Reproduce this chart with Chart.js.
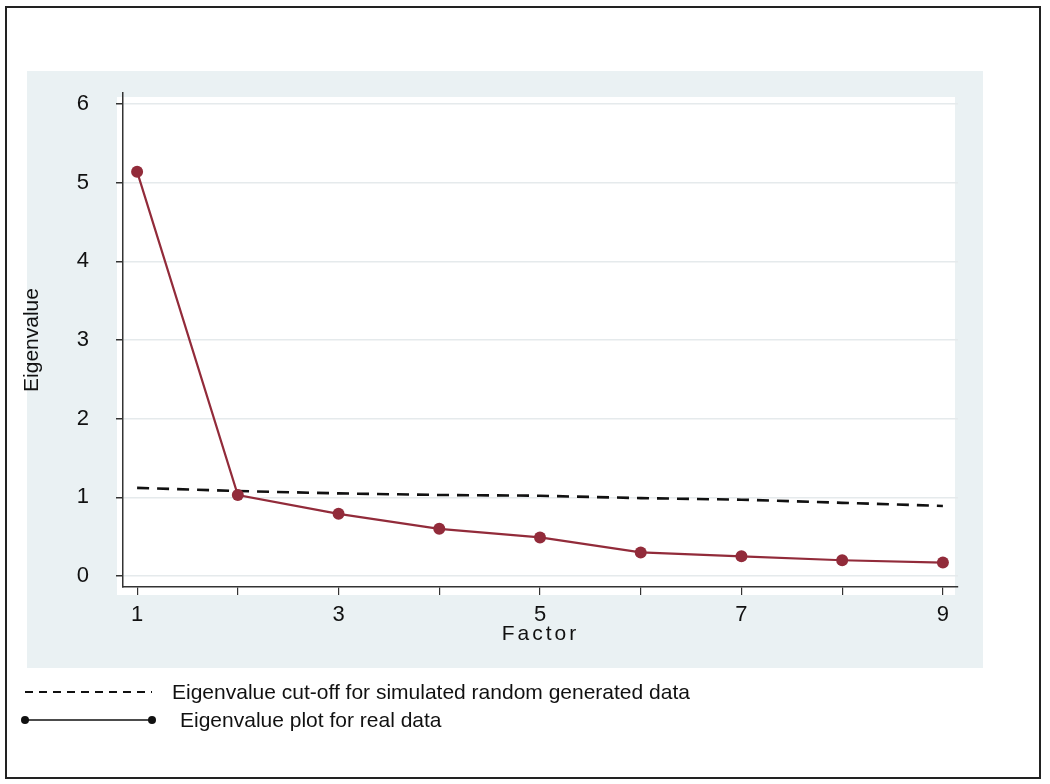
<!DOCTYPE html>
<html>
<head>
<meta charset="utf-8">
<script src="https://cdn.jsdelivr.net/npm/chart.js@4.4.1/dist/chart.umd.min.js"></script>
<style>
  body { margin: 0; background: #fff; }
  #wrap { width: 1050px; height: 784px; }
</style>
</head>
<body>
<div id="wrap"><canvas id="screeChart" width="1050" height="784"></canvas></div>
<script>
// data
const factors = [1, 2, 3, 4, 5, 6, 7, 8, 9];
const realEigen = [5.14, 1.03, 0.79, 0.60, 0.49, 0.30, 0.25, 0.20, 0.17];
const randomCutoff = [1.12, 1.08, 1.05, 1.03, 1.02, 0.99, 0.97, 0.93, 0.89];
const xTicks = [1, 2, 3, 4, 5, 6, 7, 8, 9];
const xLabeled = [1, 3, 5, 7, 9];
const yTicks = [0, 1, 2, 3, 4, 5, 6];
const legendLabels = ['Eigenvalue cut-off for simulated random generated data', 'Eigenvalue plot for real data'];

const FONT = '"Liberation Sans", Arial, sans-serif';
const maroon = '#922b3a';

const frame = {
    id: 'frame',
    beforeDraw(chart) {
        const ctx = chart.ctx;
        const a = chart.chartArea;
        ctx.save();
        ctx.fillStyle = '#fff';
        ctx.fillRect(0, 0, chart.width, chart.height);
        ctx.fillStyle = '#eaf1f3';
        ctx.fillRect(27, 71, 956, 597);
        ctx.fillStyle = '#fff';
        ctx.fillRect(a.left - 6, a.top + 4, a.right - a.left + 3, a.bottom - a.top + 4);
        ctx.strokeStyle = '#222';
        ctx.lineWidth = 2;
        ctx.strokeRect(6, 7, 1034, 771);
        ctx.restore();
    },
    afterDraw(chart) {
        const ctx = chart.ctx;
        const a = chart.chartArea;
        ctx.save();
        // x axis title, letter spaced
        ctx.fillStyle = '#111';
        ctx.font = '21px ' + FONT;
        ctx.letterSpacing = '3px';
        ctx.textAlign = 'center';
        ctx.textBaseline = 'middle';
        ctx.fillText('Factor', (a.left + a.right) / 2, 634);
        ctx.letterSpacing = '0px';

        // legend
        ctx.strokeStyle = '#111';
        ctx.lineWidth = 2;
        ctx.setLineDash([8, 6]);
        ctx.beginPath();
        ctx.moveTo(25, 692);
        ctx.lineTo(152, 692);
        ctx.stroke();
        ctx.setLineDash([]);
        ctx.lineWidth = 1.5;
        ctx.beginPath();
        ctx.moveTo(25, 720);
        ctx.lineTo(152, 720);
        ctx.stroke();
        ctx.fillStyle = '#111';
        [25, 152].forEach(x => {
            ctx.beginPath();
            ctx.arc(x, 720, 4, 0, Math.PI * 2);
            ctx.fill();
        });
        ctx.font = '21px ' + FONT;
        ctx.textAlign = 'left';
        ctx.fillText(legendLabels[0], 172, 693);
        ctx.fillText(legendLabels[1], 180, 721);
        ctx.restore();
    }
};

const ctx = document.getElementById('screeChart').getContext('2d');
const screeChart = new Chart(ctx, {
    type: 'line',
    data: {
        datasets: [{
            label: legendLabels[1],
            data: factors.map((f, i) => ({ x: f, y: realEigen[i] })),
            borderColor: maroon,
            backgroundColor: maroon,
            borderWidth: 2.2,
            pointRadius: 6,
            pointBorderWidth: 0,
            tension: 0
        }, {
            label: legendLabels[0],
            data: factors.map((f, i) => ({ x: f, y: randomCutoff[i] })),
            borderColor: '#111',
            borderWidth: 2.6,
            borderDash: [12, 8],
            pointRadius: 0,
            tension: 0
        }]
    },
    options: {
        responsive: false,
        animation: false,
        devicePixelRatio: 1,
        layout: { padding: { top: 93, right: 92, bottom: 127, left: 0 } },
        plugins: {
            legend: { display: false },
            tooltip: { enabled: false }
        },
        scales: {
            x: {
                type: 'linear',
                min: 0.86,
                max: 9.15,
                afterBuildTicks: scale => { scale.ticks = xTicks.map(v => ({ value: v })); },
                afterFit: scale => { scale.height = 70; },
                grid: { drawOnChartArea: false, tickLength: 8, tickColor: '#333', lineWidth: 1.2 },
                border: { display: true, color: '#333', width: 1.5 },
                ticks: {
                    padding: 7,
                    color: '#111',
                    font: { family: FONT, size: 22 },
                    maxRotation: 0,
                    autoSkip: false,
                    callback: v => xLabeled.includes(v) ? String(v) : ''
                }
            },
            y: {
                min: -0.14,
                max: 6.14,
                afterBuildTicks: scale => { scale.ticks = yTicks.map(v => ({ value: v })); },
                afterFit: scale => { scale.width = 123; },
                grid: { color: '#e5eaec', lineWidth: 1.5, tickLength: 7, tickColor: '#333' },
                border: { display: true, color: '#333', width: 1.5 },
                ticks: {
                    padding: 27,
                    color: '#111',
                    font: { family: FONT, size: 22 },
                    callback: v => String(v)
                },
                title: {
                    display: true,
                    text: 'Eigenvalue',
                    color: '#111',
                    font: { family: FONT, size: 21 },
                    padding: { top: 20, bottom: 0 }
                }
            }
        }
    },
    plugins: [frame]
});
</script>
</body>
</html>
